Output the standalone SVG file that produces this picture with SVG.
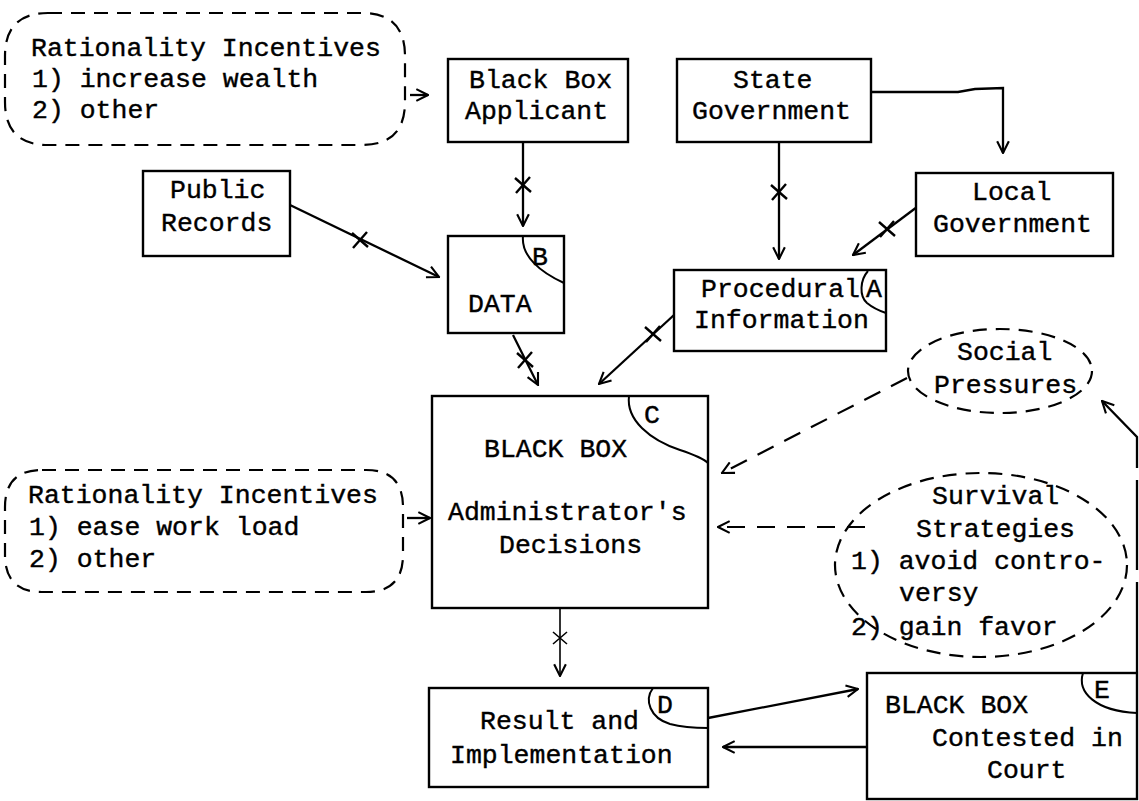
<svg xmlns="http://www.w3.org/2000/svg" width="1139" height="801" viewBox="0 0 1139 801">
<defs>
<marker id="ah" viewBox="0 0 12 12" refX="11" refY="6" markerWidth="14" markerHeight="14" orient="auto" markerUnits="userSpaceOnUse">
<path d="M1,1 L11,6 L1,11" fill="none" stroke="#000" stroke-width="1.8"/>
</marker>
<path id="tick" d="M-8,-7 L8,7 M-7,8 L7,-8"/>
</defs>
<style>
text{font-family:"Liberation Mono","Courier New",monospace;font-size:26.5px;fill:#000;stroke:#000;stroke-width:0.4}
.box{fill:#fff;stroke:#000;stroke-width:2.4}
.oval{fill:none;stroke:#000;stroke-width:2.2;stroke-dasharray:14 9}
.arc{fill:none;stroke:#000;stroke-width:2}
.c{fill:none;stroke:#000;stroke-width:2.3}
.thin{fill:none;stroke:#000;stroke-width:1.6}
.d{fill:none;stroke:#000;stroke-width:2.2;stroke-dasharray:18 12}
.t{fill:none;stroke:#000;stroke-width:2.4}
</style>
<rect width="1139" height="801" fill="#fff"/>

<g id="connectors">
<line class="c" x1="410" y1="95" x2="428" y2="95" marker-end="url(#ah)"/>
<line class="c" x1="523" y1="142" x2="523" y2="226" marker-end="url(#ah)"/>
<use href="#tick" class="t" x="523" y="185"/>
<line class="c" x1="290" y1="205" x2="439" y2="277" marker-end="url(#ah)"/>
<use href="#tick" class="t" x="360" y="240"/>
<path class="c" d="M871,92 L958,92 L975,89 L1003,88 L1003,153" marker-end="url(#ah)"/>
<line class="c" x1="779" y1="142" x2="779" y2="259" marker-end="url(#ah)"/>
<use href="#tick" class="t" x="779" y="192"/>
<line class="c" x1="917" y1="207" x2="853" y2="255" marker-end="url(#ah)"/>
<use href="#tick" class="t" x="887" y="229"/>
<line class="c" x1="513" y1="335" x2="538" y2="385" marker-end="url(#ah)"/>
<use href="#tick" class="t" x="525" y="360"/>
<line class="c" x1="674" y1="315" x2="599" y2="384" marker-end="url(#ah)"/>
<use href="#tick" class="t" x="653" y="334"/>
<line class="c" x1="407" y1="518" x2="430" y2="518" marker-end="url(#ah)"/>
<line class="d" x1="907" y1="378" x2="722" y2="473" marker-end="url(#ah)"/>
<line class="d" x1="865" y1="527" x2="718" y2="527" marker-end="url(#ah)"/>
<line class="thin" x1="560" y1="608" x2="560" y2="676" marker-end="url(#ah)"/>
<path class="thin" d="M553,632 L567,644 M553,644 L567,632"/>
<line class="c" x1="708" y1="718" x2="858" y2="689" marker-end="url(#ah)"/>
<line class="c" x1="867" y1="747" x2="723" y2="747" marker-end="url(#ah)"/>
<path class="c" d="M1137,672 L1137,437 L1102,401" stroke-dasharray="90 12" marker-end="url(#ah)"/>
</g>

<g id="ri-top">
<path class="oval" d="M48,13 L362,13 Q405,13 405,56 L405,102 Q405,145 362,145 L48,145 Q5,145 5,102 L5,56 Q5,13 48,13 Z"/>
<text x="31" y="56">Rationality Incentives</text>
<text x="32" y="87">1) increase wealth</text>
<text x="32" y="118">2) other</text>
</g>

<g id="applicant">
<rect class="box" x="448" y="59" width="180" height="83"/>
<text x="469" y="88">Black Box</text>
<text x="465" y="119">Applicant</text>
</g>

<g id="state-gov">
<rect class="box" x="677" y="59" width="194" height="83"/>
<text x="733" y="88">State</text>
<text x="692" y="119">Government</text>
</g>

<g id="public-records">
<rect class="box" x="143" y="171" width="147" height="85"/>
<text x="170" y="198">Public</text>
<text x="161" y="231">Records</text>
</g>

<g id="local-gov">
<rect class="box" x="916" y="173" width="197" height="83"/>
<text x="972" y="200">Local</text>
<text x="933" y="232">Government</text>
</g>

<g id="data">
<rect class="box" x="448" y="236" width="116" height="97"/>
<path class="arc" d="M523,236 C521,256 540,272 564,283"/>
<text x="532" y="265">B</text>
<text x="468" y="312">DATA</text>
</g>

<g id="procedural">
<rect class="box" x="674" y="270" width="212" height="81"/>
<path class="arc" d="M868,271 C860,280 859,296 867,303 C873,308 880,311 886,313"/>
<text x="701" y="297">Procedural</text>
<text x="866" y="297">A</text>
<text x="694" y="328">Information</text>
</g>

<g id="admin">
<rect class="box" x="432" y="396" width="276" height="212"/>
<path class="arc" d="M629,396 C626,420 650,440 680,450 C695,455 704,459 708,463"/>
<text x="644" y="423">C</text>
<text x="484" y="457">BLACK BOX</text>
<text x="448" y="520">Administrator's</text>
<text x="499" y="553">Decisions</text>
</g>

<g id="social">
<ellipse class="oval" cx="1000" cy="371" rx="92" ry="42"/>
<text x="957" y="360">Social</text>
<text x="934" y="393">Pressures</text>
</g>

<g id="ri-left">
<path class="oval" d="M42,470 L366,470 Q403,470 403,507 L403,555 Q403,592 366,592 L42,592 Q5,592 5,555 L5,507 Q5,470 42,470 Z"/>
<text x="28" y="503">Rationality Incentives</text>
<text x="29" y="535">1) ease work load</text>
<text x="29" y="567">2) other</text>
</g>

<g id="survival">
<ellipse class="oval" cx="981" cy="565" rx="146" ry="92"/>
<text x="932" y="504">Survival</text>
<text x="916" y="537">Strategies</text>
<text x="851" y="569">1) avoid contro-</text>
<text x="899" y="601">versy</text>
<text x="851" y="635">2) gain favor</text>
</g>

<g id="result">
<rect class="box" x="429" y="688" width="279" height="99"/>
<path class="arc" d="M653,688 C644,700 650,718 670,724 C685,728 700,728 708,728"/>
<text x="657" y="713">D</text>
<text x="480" y="729">Result and</text>
<text x="450" y="763">Implementation</text>
</g>

<g id="court">
<rect class="box" x="867" y="673" width="270" height="126"/>
<path class="arc" d="M1083,673 C1077,692 1095,711 1137,713"/>
<text x="1094" y="698">E</text>
<text x="885" y="713">BLACK BOX</text>
<text x="932" y="746">Contested in</text>
<text x="987" y="778">Court</text>
</g>
</svg>
